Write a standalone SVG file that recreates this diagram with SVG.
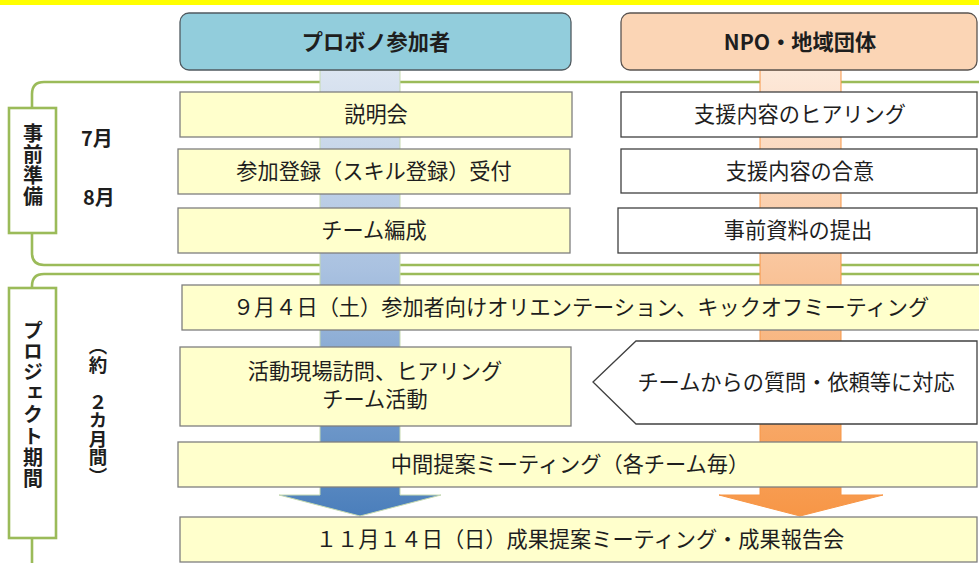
<svg xmlns="http://www.w3.org/2000/svg" width="979" height="563" viewBox="0 0 979 563">
<defs>
<linearGradient id="gBlue" gradientUnits="userSpaceOnUse" x1="0" y1="70" x2="0" y2="517">
<stop offset="0" stop-color="#DCE5F1"/>
<stop offset="0.45" stop-color="#A9C1E0"/>
<stop offset="1" stop-color="#4A7EBB"/>
</linearGradient>
<linearGradient id="gOrange" gradientUnits="userSpaceOnUse" x1="0" y1="70" x2="0" y2="517">
<stop offset="0" stop-color="#FDE9DA"/>
<stop offset="0.45" stop-color="#F9C49A"/>
<stop offset="1" stop-color="#F79646"/>
</linearGradient>
<style>
text{font-family:"Noto Sans CJK JP","Noto Sans",sans-serif;fill:#1E1E1E;}
.t{font-size:21.2px;text-anchor:middle;dominant-baseline:central;}
.h{font-size:21.2px;font-weight:bold;text-anchor:middle;dominant-baseline:central;}
.yb{fill:#FFFFCC;stroke:#7F7F7F;stroke-width:1.3;}
.wb{fill:#FFFFFF;stroke:#404040;stroke-width:1.3;}
.gl{fill:none;stroke:#9BBB59;stroke-width:2.6;}
.lb{fill:#FFFFFF;stroke:#9BBB59;stroke-width:2.6;}
.v{font-weight:bold;writing-mode:vertical-rl;}
.m{font-size:20px;font-weight:bold;dominant-baseline:central;}
</style>
</defs>
<rect x="0" y="0" width="979" height="5" fill="#FFFF00"/>

<g id="connectors">
<path class="gl" d="M979,82 H44 Q32,82 32,94 V108"/>
<path class="gl" d="M32,233 V253 Q32,265 44,265 H979"/>
<path class="gl" d="M979,274 H44 Q32,274 32,286 V288"/>
<path class="gl" d="M32,538 V563"/>
<path d="M320,70 V495 H279 L360,516 L441,495 H400 V70 Z" fill="url(#gBlue)" stroke="#C5D9B0" stroke-width="1"/>
<path d="M760,70 V495 H719 L800,516 L883,495 H841 V70 Z" fill="url(#gOrange)" stroke="#F79646" stroke-width="1"/>
</g>

<g id="header-participants">
<rect x="180" y="13" width="391" height="57" rx="9" fill="#92CDDC" stroke="#505A60" stroke-width="1.3"/>
<text class="h" x="376" y="40">プロボノ参加者</text>
</g>
<g id="header-npo">
<rect x="621" y="13" width="356" height="57" rx="9" fill="#FBD5B5" stroke="#5A5450" stroke-width="1.3"/>
<text class="h" x="800" y="40">NPO・地域団体</text>
</g>

<g id="label-prep">
<rect class="lb" x="9" y="108" width="47" height="125"/>
<text class="v" x="33" y="123" font-size="20" letter-spacing="1">事前準備</text>
</g>
<g id="month-7"><text class="m" x="81" y="137">7月</text></g>
<g id="month-8"><text class="m" x="83" y="196">8月</text></g>

<g id="label-project">
<rect class="lb" x="9" y="288" width="47" height="250"/>
<text class="v" x="33" y="320" font-size="20" letter-spacing="1.2">プロジェクト期間</text>
</g>
<g id="label-duration">
<text class="v" x="98" y="337" font-size="18.5">（約　２カ月間）</text>
</g>

<g id="briefing">
<rect class="yb" x="180" y="92" width="392" height="45"/>
<text class="t" x="376" y="112.5">説明会</text>
</g>
<g id="registration">
<rect class="yb" x="178" y="149" width="392" height="45"/>
<text class="t" x="374" y="169.5">参加登録（スキル登録）受付</text>
</g>
<g id="team-building">
<rect class="yb" x="178" y="208" width="392" height="45"/>
<text class="t" x="374" y="228.5">チーム編成</text>
</g>

<g id="hearing">
<rect class="wb" x="621" y="92" width="356" height="45"/>
<text class="t" x="800" y="112.5">支援内容のヒアリング</text>
</g>
<g id="agreement">
<rect class="wb" x="621" y="149" width="356" height="44"/>
<text class="t" x="800" y="169.5">支援内容の合意</text>
</g>
<g id="materials">
<rect class="wb" x="618" y="208" width="359" height="45"/>
<text class="t" x="798" y="228.5">事前資料の提出</text>
</g>

<g id="orientation">
<rect class="yb" x="182" y="285" width="800" height="45"/>
<text class="t" x="581" y="305.5">９月４日（土）参加者向けオリエンテーション、キックオフミーティング</text>
</g>
<g id="activities">
<rect class="yb" x="180" y="347" width="391" height="79"/>
<text class="t" x="375" y="369">活動現場訪問、ヒアリング</text>
<text class="t" x="375" y="397">チーム活動</text>
</g>
<g id="support">
<polygon class="wb" points="593,382 636,341 977,341 977,424 636,424"/>
<text class="t" x="796" y="380.5">チームからの質問・依頼等に対応</text>
</g>
<g id="midterm">
<rect class="yb" x="178" y="442" width="799" height="45"/>
<text class="t" x="570" y="462.5">中間提案ミーティング（各チーム毎）</text>
</g>
<g id="final">
<rect class="yb" x="180" y="517" width="797" height="45"/>
<text class="t" x="580" y="537.5">１１月１４日（日）成果提案ミーティング・成果報告会</text>
</g>
</svg>
